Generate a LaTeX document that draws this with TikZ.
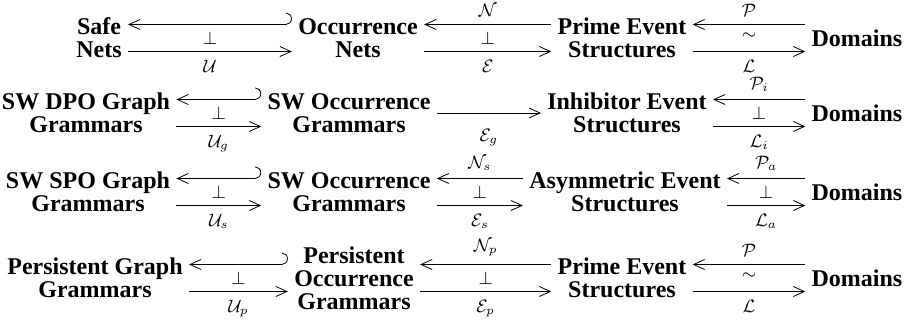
\documentclass[tikz,border=0pt]{standalone}
\usepackage{amsmath}
\usepackage{amssymb}
\usepackage{fontspec}
\setmainfont{Liberation Serif}
\usetikzlibrary{arrows.meta}

\tikzset{
    cat/.style={font=\fontsize{12}{11.5}\selectfont\bfseries, align=center, inner sep=3pt},
    lbl/.style={font=\fontsize{9}{10}\selectfont, inner sep=0.5pt},
    adj/.style={-{Straight Barb[length=5.5pt,width=5pt]}},
    emb/.style={{Hooks[left,width=12pt,length=3pt]}-{Straight Barb[length=5.5pt,width=5pt]}},
}

\begin{document}
\begin{tikzpicture}[x=0.5pt,y=-0.5pt]
    \useasboundingbox (0,0) rectangle (907,322);

    % Row 1: nets
    \node[cat] (safe) at (99,38) {Safe\\Nets};
    \node[cat] (occn) at (358,38) {Occurrence\\Nets};
    \node[cat] (pesa) at (622,38) {Prime Event\\Structures};
    \node[cat] (doma) at (857,38) {Domains};

    % Row 2: DPO grammars
    \node[cat] (dpo) at (86,113) {SW DPO Graph\\Grammars};
    \node[cat] (swoa) at (349,113) {SW Occurrence\\Grammars};
    \node[cat] (ies) at (627,113) {Inhibitor Event\\Structures};
    \node[cat] (domb) at (857,113) {Domains};

    % Row 3: SPO grammars
    \node[cat] (spo) at (88,192) {SW SPO Graph\\Grammars};
    \node[cat] (swob) at (349,192) {SW Occurrence\\Grammars};
    \node[cat] (aes) at (625,192) {Asymmetric Event\\Structures};
    \node[cat] (domc) at (857,192) {Domains};

    % Row 4: persistent grammars
    \node[cat] (pgg) at (95,278) {Persistent Graph\\Grammars};
    \node[cat] (pog) at (354,278) {Persistent\\Occurrence\\Grammars};
    \node[cat] (pesb) at (622,278) {Prime Event\\Structures};
    \node[cat] (domd) at (857,278) {Domains};

    % Coreflections (inclusion on top)
    \foreach \a/\b/\ldn in {safe/occn/\mathcal{U}, dpo/swoa/\mathcal{U}_g, spo/swob/\mathcal{U}_s, pgg/pog/\mathcal{U}_p} {
        \draw[emb] ([yshift=6.75pt]\b.west) -- node[lbl,below=3.25pt] {$\perp$} ([yshift=6.75pt]\a.east);
        \draw[adj] ([yshift=-6.75pt]\a.east) -- node[lbl,below=3.5pt] {$\ldn$} ([yshift=-6.75pt]\b.west);
    }

    % Adjunctions and equivalences
    \foreach \a/\b/\lup/\lmid/\ldn in {occn/pesa/\mathcal{N}/\perp/\mathcal{E}, pesa/doma/\mathcal{P}/\sim/\mathcal{L},
        ies/domb/\mathcal{P}_i/\perp/\mathcal{L}_i, swob/aes/\mathcal{N}_s/\perp/\mathcal{E}_s, aes/domc/\mathcal{P}_a/\perp/\mathcal{L}_a,
        pog/pesb/\mathcal{N}_p/\perp/\mathcal{E}_p, pesb/domd/\mathcal{P}/\sim/\mathcal{L}} {
        \draw[adj] ([yshift=6.75pt]\b.west) -- node[lbl,above=3.5pt] {$\lup$} node[lbl,below=3.25pt] {$\lmid$} ([yshift=6.75pt]\a.east);
        \draw[adj] ([yshift=-6.75pt]\a.east) -- node[lbl,below=3.5pt] {$\ldn$} ([yshift=-6.75pt]\b.west);
    }

    % Single functor
    \draw[adj] (swoa) -- node[lbl,below=7.5pt] {$\mathcal{E}_g$} (ies);
\end{tikzpicture}
\end{document}
